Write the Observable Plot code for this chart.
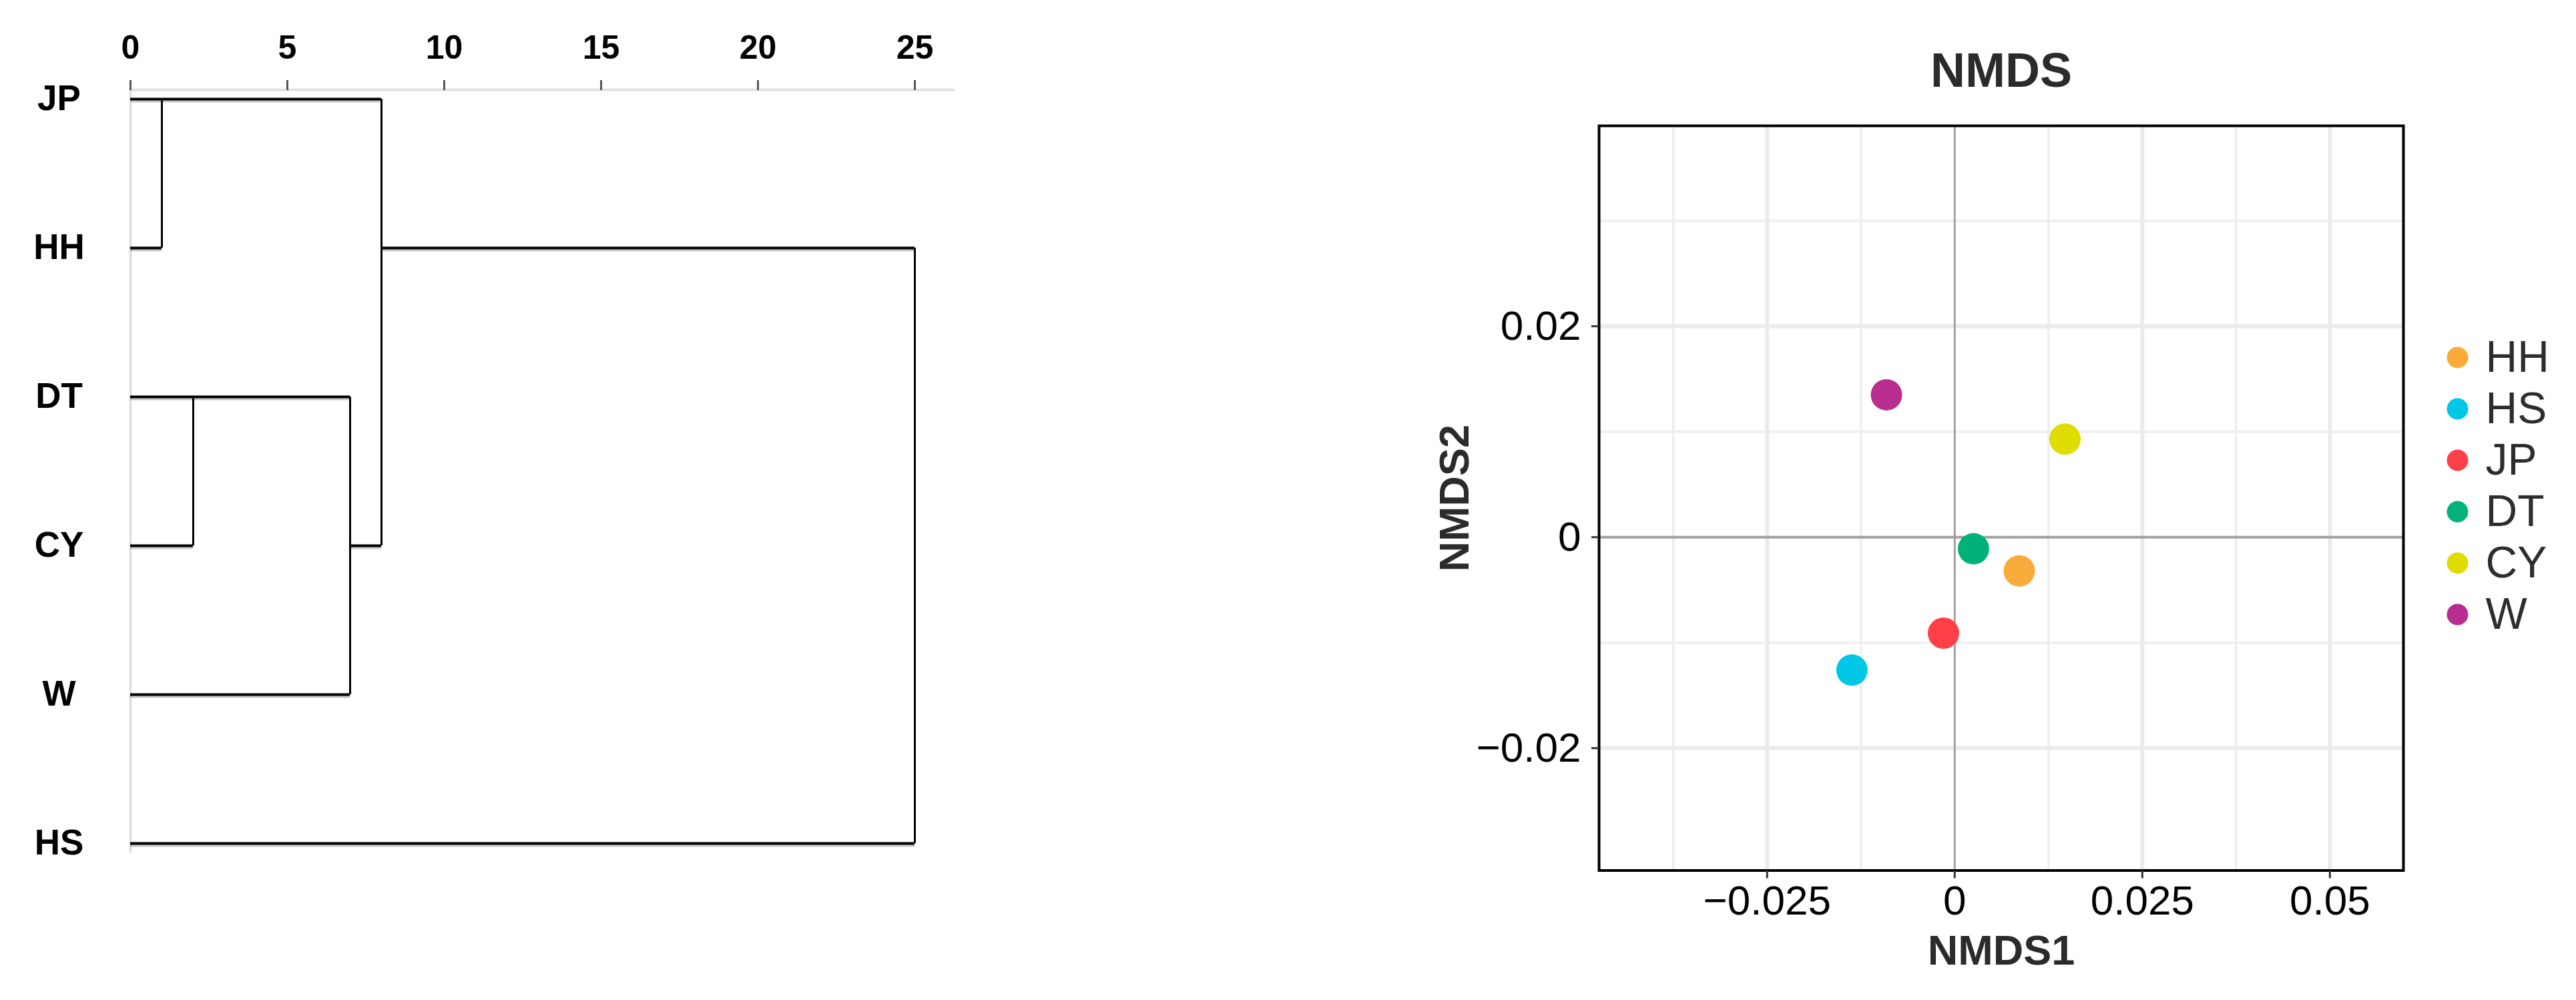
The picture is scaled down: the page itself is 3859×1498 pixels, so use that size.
<!DOCTYPE html>
<html><head><meta charset="utf-8">
<script src="https://cdn.jsdelivr.net/npm/d3@7"></script>
<script src="https://cdn.jsdelivr.net/npm/@observablehq/plot@0.6"></script>
<style>
html,body{margin:0;padding:0;background:#fff;}
#root{position:relative;width:3859px;height:1498px;overflow:hidden;background:#fff;font-family:"Liberation Sans",Arial,sans-serif;}
#root svg{position:absolute;top:0;overflow:visible;}
</style></head><body><div id="root"></div>
<script>
// ---------- Dendrogram data ----------
const leaves = ["JP","HH","DT","CY","W","HS"];
const distTicks = [0,5,10,15,20,25];
const hSegName = ["JP","HH","HH","DT","CY","CY","W","HS"];
const hSegFrom = [0,0,8,0,0,7,0,0];
const hSegTo   = [8,1,25,7,2,8,7,25];
const vSegDist   = [1,8,25,2,7];
const vSegTop    = ["JP","JP","HH","DT","DT"];
const vSegBottom = ["HH","CY","HS","CY","W"];

// ---------- NMDS data ----------
const groups = ["HH","HS","JP","DT","CY","W"];
const nmds1 = [0.0086,-0.0137,-0.0015,0.0025,0.0147,-0.0091];
const nmds2 = [-0.0032,-0.0126,-0.0091,-0.0011,0.0093,0.0135];
const groupColors = ["#F9AC3A","#00C7E6","#FF4049","#00B279","#DEDC00","#B82E90"];
const xTicks = [-0.025,0,0.025,0.05];
const yTicks = [-0.02,0,0.02];
const xMinor = [-0.0375,-0.0125,0.0125,0.0375];
const yMinor = [-0.01,0.01,0.03];

const font = "'Liberation Sans', Arial, Helvetica, sans-serif";
const root = document.getElementById("root");
const fmt = d => d === 0 ? "0" : (d < 0 ? "\u2212" : "") + String(Math.abs(d));

// ---------- Dendrogram ----------
const hSegs = hSegName.map((n,i)=>({name:n, x1:hSegFrom[i], x2:hSegTo[i]}));
const vSegs = vSegDist.map((d,i)=>({x:d, y1:vSegTop[i], y2:vSegBottom[i]}));
const dW = 1500, dH = 1340;
const dendro = Plot.plot({
  width: dW, height: dH,
  marginLeft: 195, marginRight: dW - 1428, marginTop: 134, marginBottom: dH - 1275,
  x: {domain:[0,25], range:[195,1370]},
  y: {type:"point", domain: leaves, range:[147,1264], padding: 0},
  style: {fontFamily: font, background:"transparent", color:"#000"},
  marks: [
    Plot.frame({anchor:"top", stroke:"#e2e2e2", strokeWidth:4}),
    Plot.frame({anchor:"left", stroke:"#e2e2e2", strokeWidth:4}),
    Plot.axisX({anchor:"top", ticks: distTicks, tickSize:15, tickPadding:32, fontSize:50, fontWeight:"bold",
      stroke:"#555", strokeWidth:3, fill:"#000", label:null}),
    Plot.axisY({anchor:"left", tickSize:0, tickPadding:107, textAnchor:"middle", fontSize:53, fontWeight:"bold",
      fill:"#000", label:null}),
    Plot.ruleY(hSegs, {y:"name", x1:"x1", x2:"x2", stroke:"#000", strokeOpacity:0.22, strokeWidth:4, dy:3}),
    Plot.ruleX(vSegs, {x:"x", y1:"y1", y2:"y2", stroke:"#000", strokeWidth:3}),
    Plot.ruleY(hSegs, {y:"name", x1:"x1", x2:"x2", stroke:"#000", strokeWidth:4})
  ]
});
dendro.style.left = "0px";
root.appendChild(dendro);

// ---------- NMDS ----------
const pts = groups.map((g,i)=>({g, x:nmds1[i], y:nmds2[i]}));
const nW = 1540, nH = 1498, nLeft = 2100;
const nmds = Plot.plot({
  width: nW, height: nH,
  marginLeft: 295, marginRight: nW - 1500, marginTop: 188, marginBottom: nH - 1303.5,
  x: {domain:[-0.0474, 0.0598]},
  y: {domain:[-0.0316, 0.039]},
  color: {domain: groups, range: groupColors},
  style: {fontFamily: font, background:"transparent", color:"#000"},
  marks: [
    Plot.ruleX(xMinor, {stroke:"#eeeeee", strokeWidth:3.5}),
    Plot.ruleY(yMinor, {stroke:"#eeeeee", strokeWidth:3.5}),
    Plot.ruleX(xTicks.filter(d=>d!==0), {stroke:"#ebebeb", strokeWidth:6}),
    Plot.ruleY(yTicks.filter(d=>d!==0), {stroke:"#ebebeb", strokeWidth:6}),
    Plot.ruleX([0], {stroke:"#a0a0a0", strokeWidth:3}),
    Plot.ruleY([0], {stroke:"#a0a0a0", strokeWidth:4}),
    Plot.dot(pts, {x:"x", y:"y", r:23.5, fill:"g", stroke:null}),
    Plot.frame({stroke:"#000", strokeWidth:4}),
    Plot.axisX({ticks:xTicks, tickSize:12, tickPadding:10, fontSize:62, tickFormat: fmt, label:null,
      stroke:"#333", strokeWidth:3, fill:"#000"}),
    Plot.axisY({ticks:yTicks, tickSize:11, tickPadding:16, fontSize:62, tickFormat: fmt, label:null,
      stroke:"#333", strokeWidth:3, fill:"#000"}),
    Plot.text(["NMDS"], {text:d=>d, frameAnchor:"top", dy:-82, lineAnchor:"middle", textAnchor:"middle",
      fontSize:72, fontWeight:"bold", fill:"#2b2b2b"}),
    Plot.text(["NMDS1"], {text:d=>d, frameAnchor:"bottom", dy:121, lineAnchor:"middle", textAnchor:"middle",
      fontSize:63, fontWeight:"bold", fill:"#2b2b2b"}),
    Plot.text(["NMDS2"], {text:d=>d, frameAnchor:"left", dx:-216, rotate:-90, lineAnchor:"middle", textAnchor:"middle",
      fontSize:63, fontWeight:"bold", fill:"#2b2b2b"})
  ]
});
nmds.style.left = nLeft + "px";
root.appendChild(nmds);

// ---------- Legend ----------
const lW = 219, lH = 1000, lLeft = 3640;
const legend = Plot.plot({
  width: lW, height: lH,
  marginLeft: 41, marginRight: 0, marginTop: 0, marginBottom: 0,
  y: {type:"point", domain: groups, range:[533, 922], padding: 0, axis: null},
  color: {domain: groups, range: groupColors},
  style: {fontFamily: font, background:"transparent"},
  marks: [
    Plot.dot(groups, {y:d=>d, fill:d=>d, r:16, frameAnchor:"left", stroke:null}),
    Plot.text(groups, {y:d=>d, text:d=>d, frameAnchor:"left", dx:42, textAnchor:"start", lineAnchor:"middle",
      fontSize:66, fill:"#2d2d2d"})
  ]
});
legend.style.left = lLeft + "px";
root.appendChild(legend);
</script></body></html>
